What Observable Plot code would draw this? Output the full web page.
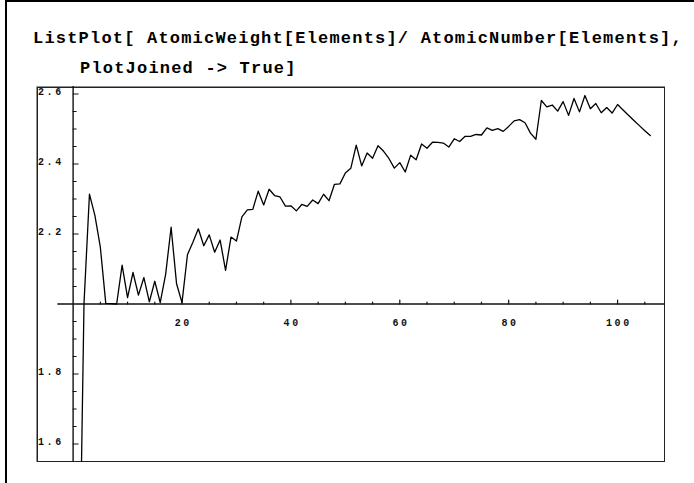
<!DOCTYPE html>
<html>
<head>
<meta charset="utf-8">
<script src="https://cdn.jsdelivr.net/npm/d3@7"></script>
<script src="https://cdn.jsdelivr.net/npm/@observablehq/plot@0.6"></script>
<style>
  html, body { margin: 0; padding: 0; background: #fff; }
  #page { position: relative; width: 694px; height: 483px; overflow: hidden; background: #fff; }
  #edge { position: absolute; left: 5px; top: 0; width: 689px; height: 483px;
          border-left: 2px solid #000; border-top: 2px solid #000; box-sizing: border-box; }
  .title { position: absolute; font-family: "Liberation Mono", monospace; font-weight: bold;
           font-size: 17px; line-height: 17px; letter-spacing: 1.2px; white-space: pre; color: #000; }
  #chart { position: absolute; left: 36px; top: 86px; }
  #chart svg text { letter-spacing: 2.6px; }
</style>
</head>
<body>
<div id="page">
  <div id="edge"></div>
  <div class="title" style="left:33px;top:30px">ListPlot[ AtomicWeight[Elements]/ AtomicNumber[Elements],</div>
  <div class="title" style="left:80px;top:60px">PlotJoined -&gt; True]</div>
  <div id="chart"></div>
</div>
<script>
// Atomic number (x) and AtomicWeight/AtomicNumber (y), elements 1..106
const atomicNumber = [
  1,2,3,4,5,6,7,8,9,10,11,12,13,14,15,16,17,18,19,20,
  21,22,23,24,25,26,27,28,29,30,31,32,33,34,35,36,37,38,39,40,
  41,42,43,44,45,46,47,48,49,50,51,52,53,54,55,56,57,58,59,60,
  61,62,63,64,65,66,67,68,69,70,71,72,73,74,75,76,77,78,79,80,
  81,82,83,84,85,86,87,88,89,90,91,92,93,94,95,96,97,98,99,100,
  101,102,103,104,105,106
];
const weightPerNumber = [
  1.0079,2.0013,2.3137,2.2530,2.1622,2.0018,2.0010,1.9999,2.1109,2.0180,
  2.0900,2.0254,2.0755,2.0061,2.0649,2.0041,2.0855,2.2193,2.0578,2.0039,
  2.1408,2.1764,2.2148,2.1665,2.1975,2.1480,2.1827,2.0962,2.1912,2.1797,
  2.2491,2.2691,2.2704,2.3224,2.2830,2.3278,2.3099,2.3058,2.2796,2.2806,
  2.2660,2.2843,2.2791,2.2970,2.2868,2.3135,2.2951,2.3419,2.3432,2.3742,
  2.3875,2.4538,2.3944,2.4313,2.4165,2.4523,2.4369,2.4158,2.3883,2.4040,
  2.3770,2.4252,2.4121,2.4570,2.4450,2.4621,2.4616,2.4597,2.4483,2.4720,
  2.4643,2.4790,2.4787,2.4843,2.4828,2.5030,2.4963,2.5010,2.4932,2.5074,
  2.5233,2.5268,2.5178,2.4881,2.4706,2.5814,2.5632,2.5685,2.5509,2.5782,
  2.5389,2.5873,2.5489,2.5957,2.5579,2.5729,2.5464,2.5612,2.5455,2.5700,
  2.5545,2.5392,2.5243,2.5096,2.4952,2.4811
];

// Axes / ticks
const plotRangeX = [-6.724, 108.8];
const plotRangeY = [1.5471, 2.6214];
const axesOrigin = [0, 2];
const xAxisStart = -2.8;
const xMajorTicks = [20, 40, 60, 80, 100];
const xMinorTicks = [5, 10, 15, 25, 30, 35, 45, 50, 55, 65, 70, 75, 85, 90, 95, 105];
const yMajorTicks = [1.6, 1.8, 2.2, 2.4, 2.6];
const yMinorTicks = [1.65, 1.7, 1.75, 1.85, 1.9, 1.95, 2.05, 2.1, 2.15, 2.25, 2.3, 2.35, 2.45, 2.5, 2.55];

const tickShape = { draw(ctx, l) { ctx.moveTo(0, 0); ctx.lineTo(0, -l); } };
const ink = "#111";
const labelFont = "Liberation Mono, monospace";

const rows = atomicNumber.map((z, i) => ({z, r: weightPerNumber[i]}));

const chart = Plot.plot({
  width: 629,
  height: 376,
  marginLeft: 0, marginRight: 0, marginTop: 0, marginBottom: 0,
  x: {domain: plotRangeX, axis: null},
  y: {domain: plotRangeY, axis: null},
  style: {fontFamily: labelFont, fontSize: "10px", color: ink, background: "#fff"},
  marks: [
    Plot.frame({stroke: "#222", strokeWidth: 1.5, inset: 0.75}),
    Plot.ruleX([axesOrigin[0]], {x: d => d, stroke: ink, strokeWidth: 1.4}),
    Plot.ruleY([axesOrigin[1]], {y: d => d, x1: xAxisStart, x2: plotRangeX[1], stroke: ink, strokeWidth: 1.4}),
    Plot.vector(yMajorTicks, {x: () => axesOrigin[0], y: d => d, length: 5, rotate: 90, anchor: "start", shape: tickShape, stroke: ink, strokeWidth: 1.2}),
    Plot.vector(yMinorTicks, {x: () => axesOrigin[0], y: d => d, length: 3, rotate: 90, anchor: "start", shape: tickShape, stroke: ink, strokeWidth: 1.2}),
    Plot.vector(xMajorTicks, {x: d => d, y: () => axesOrigin[1], length: 4, rotate: 0, anchor: "start", shape: tickShape, stroke: ink, strokeWidth: 1.2}),
    Plot.vector(xMinorTicks, {x: d => d, y: () => axesOrigin[1], length: 2, rotate: 0, anchor: "start", shape: tickShape, stroke: ink, strokeWidth: 1.2}),
    Plot.text(yMajorTicks, {y: d => d, frameAnchor: "left", dx: 1.5, dy: 1.5, textAnchor: "start", lineAnchor: "bottom",
      text: d => d.toFixed(1), fill: ink, fontWeight: "bold"}),
    Plot.text(xMajorTicks, {x: d => d, y: () => axesOrigin[1], dx: 1.3, dy: 22, textAnchor: "middle", lineAnchor: "bottom",
      text: d => String(d), fill: ink, fontWeight: "bold"}),
    Plot.line(rows, {x: "z", y: "r", stroke: "#000", strokeWidth: 1.3, clip: true})
  ]
});
document.getElementById("chart").appendChild(chart);
</script>
</body>
</html>
